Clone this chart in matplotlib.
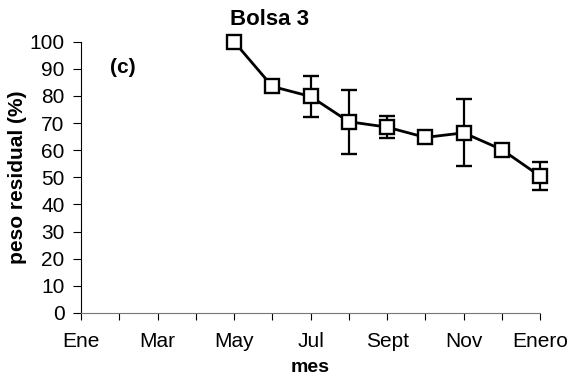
import matplotlib.pyplot as plt
import numpy as np

plt.rcParams["font.family"] = ["Liberation Sans", "DejaVu Sans"]

# months counted from Ene (0) to Enero of the next year (12)
month_pos = [4, 5, 6, 7, 8, 9, 10, 11, 12]
peso = [100, 83.5, 79.8, 70.5, 68.5, 64.7, 66.4, 60.2, 50.4]
err = [0, 1.5, 7.5, 11.8, 4.0, 1.0, 12.3, 0, 5.2]

tick_labels = ["Ene", "Mar", "May", "Jul", "Sept", "Nov", "Enero"]

fig = plt.figure(figsize=(5.71, 3.76), dpi=100)
ax = fig.add_axes([0.142, 0.168, 0.804, 0.721])

lines = ax.errorbar(
    month_pos, peso, yerr=err,
    color="black", linewidth=2.0,
    marker="s", markersize=9.5, markerfacecolor="white",
    markeredgecolor="black", markeredgewidth=1.7,
    ecolor="black", elinewidth=1.6, capsize=5.5, capthick=1.6,
)
for art in lines.lines[:1] + tuple(lines.lines[1]) + tuple(lines.lines[2]):
    art.set_clip_on(False)

ax.set_xlim(0, 12)
ax.set_ylim(0, 100)
ax.set_xticks(np.arange(0, 13, 1))
ax.set_xticklabels(["" if i % 2 else tick_labels[i // 2] for i in range(13)])
ax.set_yticks(np.arange(0, 101, 10))

for s in ["top", "right"]:
    ax.spines[s].set_visible(False)
ax.spines["bottom"].set_linestyle((0, (2, 1)))
ax.spines["bottom"].set_color("#777777")
ax.spines["left"].set_linewidth(0.8)
ax.tick_params(axis="both", direction="out", length=5, width=0.8, labelsize=15)
ax.tick_params(axis="x", pad=9)
ax.tick_params(axis="y", length=6, pad=6)

ax.set_title("Bolsa 3", fontsize=16, fontweight="bold", x=0.41, pad=12)
ax.set_ylabel("peso residual (%)", fontsize=15, fontweight="bold", labelpad=2)
ax.text(0.062, 0.905, "(c)", transform=ax.transAxes, fontsize=15,
        fontweight="bold", va="center")
# "mes" sits right under the Jul label, as in the original
fig.text(0.142 + 0.804 * 0.5, 0.0, "mes", fontsize=14, fontweight="bold",
         ha="center", va="bottom")

fig.savefig("out.png", dpi=100)
